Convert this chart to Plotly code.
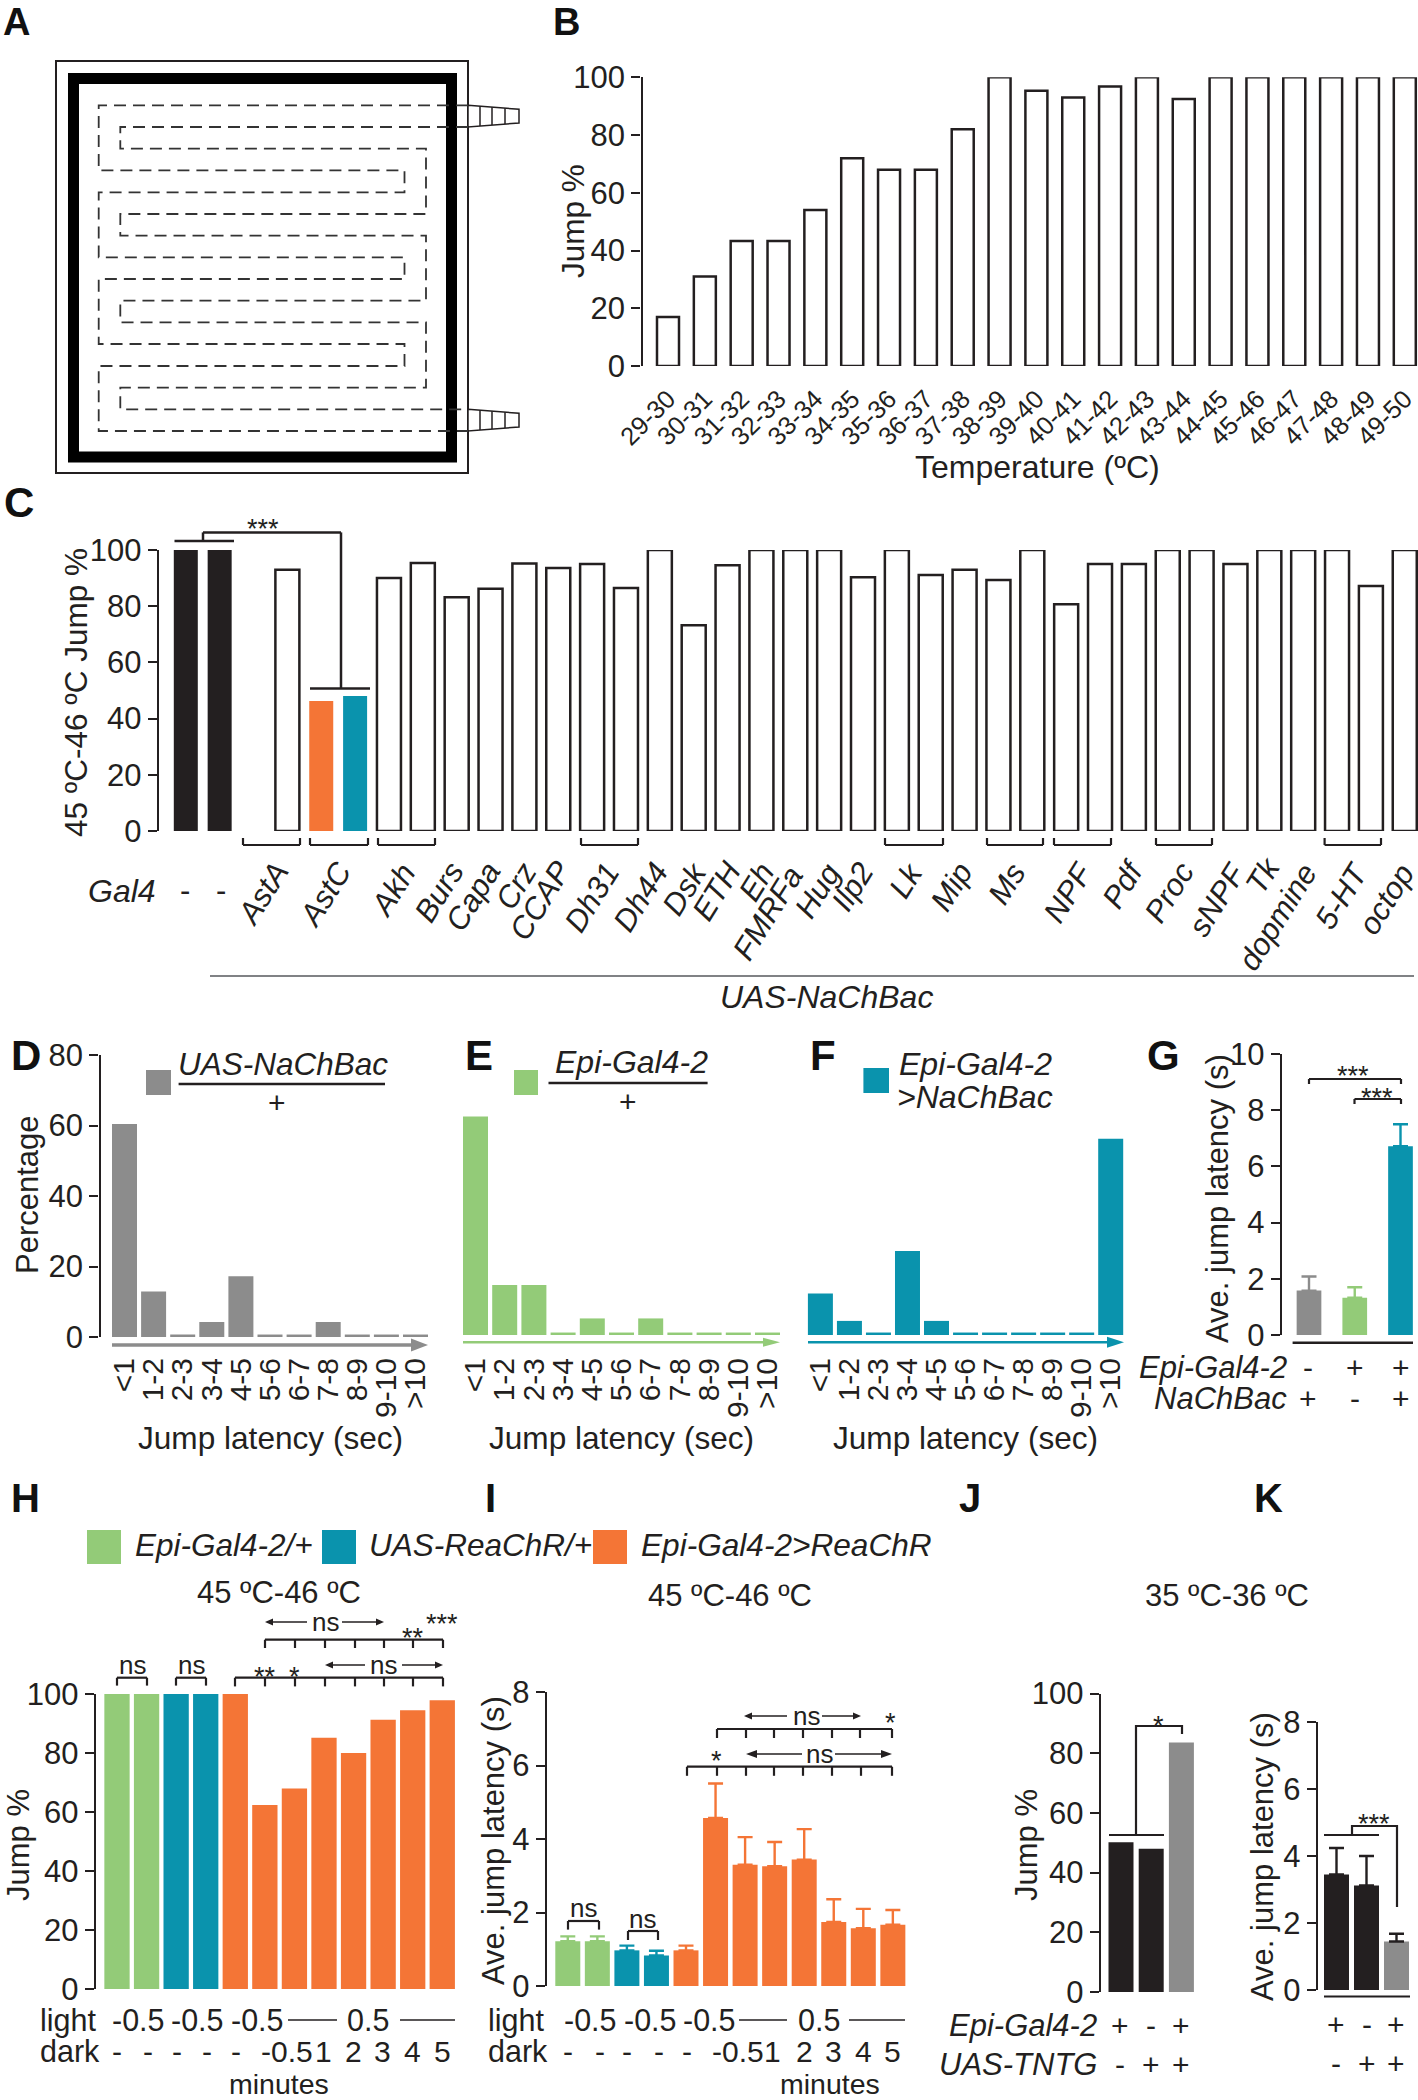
import plotly.graph_objects as go

# ---------- data ----------
temp_ranges = ["29-30","30-31","31-32","32-33","33-34","34-35","35-36","36-37","37-38","38-39","39-40",
               "40-41","41-42","42-43","43-44","44-45","45-46","46-47","47-48","48-49","49-50"]
temp_jump = [17,31,43.3,43.3,54,72,68,68,82,100,95.3,93,96.8,100,92.5,100,100,100,100,100,100]

screen_jump = [100,100,None,93,46.3,48,90,95.4,83.2,86.2,95.2,93.6,95,86.5,100,73.2,94.6,
               100,100,100,90.3,100,91.1,93,89.3,100,80.7,95,95,100,100,95,100,100,100,87.2,100]
screen_role = ["k","k","o","o","r","t"] + ["o"]*31
screen_labels = ["AstA","AstC","Akh","Burs","Capa","Crz","CCAP","Dh31","Dh44","Dsk","ETH","Eh","FMRFa","Hug","Ilp2",
                 "Lk","Mip","Ms","NPF","Pdf","Proc","sNPF","Tk","dopmine","5-HT","octop"]

latency_bins = ["<1","1-2","2-3","3-4","4-5","5-6","6-7","7-8","8-9","9-10",">10"]
hist_uas = [60.4,12.9,0.7,4.25,17.2,0.7,0.7,4.25,0.7,0.7,0.7]
hist_gal = [62,14.2,14.2,0.7,4.7,0.7,4.7,0.7,0.7,0.7,0.7]
hist_both = [11.8,4,0.7,23.8,4,0.7,0.7,0.7,0.7,0.7,55.7]

g_mean = [1.58,1.33,6.72]
g_err = [0.5,0.37,0.78]
g_rows = [("Epi-Gal4-2",["-","+","+"]),("NaChBac",["+","-","+"])]

h_jump = [100,100,100,100,100,62.4,68,85.2,80,91.3,94.5,97.9]
i_mean = [1.22,1.22,0.97,0.83,0.97,4.57,3.3,3.26,3.44,1.74,1.57,1.67]
i_err = [0.13,0.13,0.13,0.13,0.13,0.94,0.75,0.66,0.83,0.62,0.53,0.4]
light_dark_roles = ["g","g","t","t","r","r","r","r","r","r","r","r"]
dark_labels = ["-","-","-","-","-","-0.5","1","2","3","4","5"]

j_jump = [50.2,48,83.6]
k_mean = [3.45,3.12,1.45]
k_err = [0.79,0.88,0.23]
tntg_rows = [("Epi-Gal4-2",["+","-","+"]),("UAS-TNTG",["-","+","+"])]

# ---------- style ----------
W, H = 1418, 2100
FONT = "Liberation Sans"
BLACK, GRAY, GREEN, TEAL, ORANGE = "#231F20", "#8C8C8C", "#93CB78", "#0A93AD", "#F47536"
ROLE = {"k": BLACK, "o": "white", "r": ORANGE, "t": TEAL, "g": GREEN}
TICK = 31
LABEL = 31

shapes, annos = [], []
fig = go.Figure()
axis_count = 0


def X(x):
    return x / W


def Y(y):
    return 1 - y / H


def text(x, y, s, size=LABEL, anchor="center", angle=0, bold=False, color=BLACK):
    annos.append(dict(x=X(x), y=Y(y), xref="paper", yref="paper", text=s, showarrow=False,
                      xanchor=anchor, yanchor="middle", textangle=angle,
                      font=dict(family=FONT, size=size, color=color, weight=700 if bold else 400)))


def seg(x0, y0, x1, y1, color=BLACK, w=2):
    shapes.append(dict(type="line", xref="paper", yref="paper", x0=X(x0), y0=Y(y0), x1=X(x1), y1=Y(y1),
                       line=dict(color=color, width=w)))


def poly(points, fill=None, color=BLACK, w=0, dash=None, close=True):
    d = "M " + " L ".join(f"{X(a):.5f},{Y(b):.5f}" for a, b in points) + (" Z" if close else "")
    line = dict(color=color, width=w)
    if dash:
        line["dash"] = dash
    s = dict(type="path", xref="paper", yref="paper", path=d, line=line)
    if fill:
        s["fillcolor"] = fill
    shapes.append(s)


def rect(x0, y0, x1, y1, fill=None, color=BLACK, w=0):
    poly([(x0, y0), (x1, y0), (x1, y1), (x0, y1)], fill=fill, color=color, w=w)


def arrow(x0, x1, y, color=BLACK, w=1.5, hl=8, hh=3.5):
    """arrow pointing from x0 to x1"""
    sgn = 1 if x1 > x0 else -1
    seg(x0, y, x1 - sgn * hl * 0.7, y, color, w)
    poly([(x1, y), (x1 - sgn * hl, y - hh), (x1 - sgn * hl, y + hh)], fill=color, color=color, w=0)


def comb(xs, top, bottom, w=2.2):
    seg(xs[0], top, xs[-1], top, BLACK, w)
    for a in xs:
        seg(a, top, a, bottom, BLACK, w)


def stars(x, y, s, size=27):
    text(x, y + 7, s, size=size)


def panel(values, left, right, top, bottom, c0, step, bw, ymax, dtick, colors,
          err=None, line_colors=None, line_widths=None, show_y=True, ticktext=None,
          tickangle=None, standoff=0, tick_size=24, err_color=None):
    global axis_count
    axis_count += 1
    sfx = "" if axis_count == 1 else str(axis_count)
    xs = list(range(len(values)))
    marker = dict(color=colors)
    if line_colors:
        marker["line"] = dict(color=line_colors, width=line_widths)
    else:
        marker["line"] = dict(width=0)
    common = dict(width=bw / step, xaxis="x" + sfx, yaxis="y" + sfx, showlegend=False, hoverinfo="skip")
    if err is None:
        fig.add_trace(go.Bar(x=xs, y=values, marker=marker, **common))
    else:
        # one trace per colour so that every error bar can take the colour of its bar
        for col in dict.fromkeys(colors):
            idx = [i for i, c in enumerate(colors) if c == col]
            fig.add_trace(go.Bar(x=[xs[i] for i in idx], y=[values[i] for i in idx],
                                 marker=dict(color=col, line=dict(width=0)),
                                 error_y=dict(type="data", symmetric=False, array=[err[i] for i in idx],
                                              arrayminus=[0] * len(idx), color=err_color or col,
                                              thickness=2.4, width=7.5),
                                 **common))
    xa = dict(domain=[X(left), X(right)], range=[(left - c0) / step, (right - c0) / step], anchor="y" + sfx,
              showgrid=False, zeroline=False, showline=False, ticks="", fixedrange=True)
    if ticktext:
        xa.update(tickmode="array", tickvals=xs, ticktext=ticktext, tickangle=tickangle,
                  ticklabelstandoff=standoff, tickfont=dict(family=FONT, size=tick_size, color=BLACK))
    else:
        xa["showticklabels"] = False
    ya = dict(domain=[Y(bottom), Y(top)], range=[0, ymax], anchor="x" + sfx, showgrid=False, zeroline=False,
              tick0=0, dtick=dtick, fixedrange=True)
    if show_y:
        ya.update(showline=True, linewidth=2.4, linecolor=BLACK, ticks="outside", ticklen=9, tickwidth=2.2,
                  tickcolor=BLACK, tickfont=dict(family=FONT, size=TICK, color=BLACK))
    else:
        ya.update(visible=False)
    fig.update_layout({"xaxis" + sfx: xa, "yaxis" + sfx: ya})


# ---------- panel letters ----------
for s, x, y, sz in [("A", 1, 22, 38), ("B", 551, 22, 38), ("C", 2, 502, 42), ("D", 9, 1055, 42), ("E", 463, 1055, 42),
                    ("F", 808, 1055, 42), ("G", 1145, 1055, 42), ("H", 9, 1498, 40), ("I", 483, 1498, 40),
                    ("J", 957, 1498, 40), ("K", 1252, 1498, 40)]:
    text(x, y, s, size=sz, anchor="left", bold=True, color="#111111")

# ---------- A: schematic ----------
rect(56, 61, 468, 473, color=BLACK, w=2)
rect(73.5, 78.5, 451.5, 457, color="black", w=11)
for ya_, yb_ in [(105.3, 127), (409.3, 431)]:
    poly([(468, ya_), (519, ya_ + 4), (519, yb_ - 4), (468, yb_)], fill="white", color=BLACK, w=1.5)
    for xr in (480, 492, 505):
        taper = (xr - 468) / 51 * 4
        seg(xr, ya_ + taper, xr, yb_ - taper, BLACK, 1.5)
rows = [105.3, 127, 148.7, 170.3, 192.3, 214, 235.7, 257.3, 279, 300.7, 322.3, 344, 366, 387.7, 409.3, 431]
lo, li, ri, ro = 98.7, 120.3, 404.5, 426
poly([(468, rows[0]), (lo, rows[0]), (lo, rows[3]), (ri, rows[3]), (ri, rows[4]), (lo, rows[4]), (lo, rows[7]),
      (ri, rows[7]), (ri, rows[8]), (lo, rows[8]), (lo, rows[11]), (ri, rows[11]), (ri, rows[12]), (lo, rows[12]),
      (lo, rows[15]), (468, rows[15])], color="#333333", w=1.8, dash="12px,7px", close=False)
poly([(468, rows[1]), (li, rows[1]), (li, rows[2]), (ro, rows[2]), (ro, rows[5]), (li, rows[5]), (li, rows[6]),
      (ro, rows[6]), (ro, rows[9]), (li, rows[9]), (li, rows[10]), (ro, rows[10]), (ro, rows[13]), (li, rows[13]),
      (li, rows[14]), (468, rows[14])], color="#333333", w=1.8, dash="12px,7px", close=False)

# ---------- B ----------
panel(temp_jump, 642.5, 1418, 77.3, 366, 668, 36.84, 22, 100, 20, "white",
      line_colors=BLACK, line_widths=2.5, ticktext=temp_ranges, tickangle=-45, standoff=12, tick_size=25.5)
text(573, 221, "Jump %", size=31.5, angle=-90)
text(1037, 467, "Temperature (ºC)", size=32)

# ---------- C ----------
panel(screen_jump, 159, 1418, 550, 831, 185.8, 33.86, 24, 100, 20,
      [ROLE[r] for r in screen_role], line_colors=[BLACK if r == "o" else ROLE[r] for r in screen_role],
      line_widths=[2.5 if r == "o" else 0 for r in screen_role])
text(76, 693, "45 ºC-46 ºC Jump %", size=31.5, angle=-90)
label_centers = [(262, 894), (325, 894), (392.6, 890), (438.5, 892), (473, 896.5), (516.5, 885.7), (539.5, 901),
                 (592, 897.5), (640.5, 897.5), (684, 889), (716, 891), (757, 882), (768, 914), (817, 891), (853, 887),
                 (906, 880.6), (952, 887), (1006, 884), (1068, 892), (1122.6, 884), (1169, 892), (1217, 899),
                 (1263, 875.5), (1277, 917), (1341, 896), (1386, 899)]
for s, (a, b) in zip(screen_labels, label_centers):
    text(a, b, f"<i>{s}</i>", size=31, angle=-58)
for a, b in [(243, 300), (310, 368), (378, 435), (581, 638), (885, 943), (987, 1043), (1054, 1111), (1156, 1212),
             (1324.6, 1381)]:
    seg(a, 845, b, 845, BLACK, 2.2)
    seg(a, 838, a, 845, BLACK, 2.2)
    seg(b, 838, b, 845, BLACK, 2.2)
text(122, 891, "<i>Gal4</i>", size=32)
text(185, 890, "-", size=31)
text(221, 890, "-", size=31)
seg(210, 976, 1414, 976, "#808285", 2.2)
text(826, 997, "<i>UAS-NaChBac</i>", size=32)
seg(174.5, 541, 234, 541, BLACK, 2.5)
seg(203, 541, 203, 532.4, BLACK, 2.5)
seg(203, 532.4, 341, 532.4, BLACK, 2.5)
seg(341, 532.4, 341, 688.6, BLACK, 2.5)
seg(310, 688.6, 370, 688.6, BLACK, 2.5)
stars(262.6, 522, "***")

# ---------- D E F ----------
panel(hist_uas, 100.5, 445, 1055, 1337, 124.5, 29.1, 25, 80, 20, GRAY,
      ticktext=latency_bins, tickangle=-90, standoff=14, tick_size=30)
panel(hist_gal, 455, 800, 1053, 1335, 475.5, 29.2, 25, 80, 20, GREEN, show_y=False,
      ticktext=latency_bins, tickangle=-90, standoff=16, tick_size=30)
panel(hist_both, 795, 1135, 1053, 1335, 820.4, 29.03, 25, 80, 20, TEAL, show_y=False,
      ticktext=latency_bins, tickangle=-90, standoff=16, tick_size=30)
text(27, 1195, "Percentage", size=31, angle=-90)
for cx in (270, 621, 965):
    text(cx, 1438, "Jump latency (sec)", size=31.6)
arrow(112, 428, 1345, GRAY, 3.5, 17, 6.5)
arrow(463, 780, 1342.3, GREEN, 2.5, 17, 4.5)
arrow(808, 1124, 1342.3, TEAL, 2.5, 17, 5.5)
rect(146, 1070, 171, 1095, fill=GRAY)
text(283, 1064, "<i>UAS-NaChBac</i>", size=31.5)
seg(178.6, 1084, 385, 1084, BLACK, 2.5)
text(277, 1102, "+", size=30)
rect(514, 1070, 538, 1095, fill=GREEN)
text(631.6, 1062, "<i>Epi-Gal4-2</i>", size=32)
seg(548.5, 1083, 707.6, 1083, BLACK, 2.5)
text(627.5, 1101, "+", size=30)
rect(863.4, 1068, 889, 1093, fill=TEAL)
text(897, 1064, "<i>Epi-Gal4-2</i>", size=32, anchor="left")
text(895, 1097, "<i>&gt;NaChBac</i>", size=32, anchor="left")

# ---------- G ----------
panel(g_mean, 1282, 1418, 1054, 1335, 1309, 45.75, 24.7, 10, 2, [GRAY, GREEN, TEAL], err=g_err)
seg(1292.6, 1342.7, 1413, 1342.7, BLACK, 2.5)
text(1217, 1199, "Ave. jump latency (s)", size=31, angle=-90)
for (name, vals), yy in zip(g_rows, (1367, 1398)):
    text(1288.5, yy, f"<i>{name}</i>", size=31, anchor="right")
    for v, cx in zip(vals, (1308, 1355, 1401)):
        text(cx, yy, v, size=30)
comb([1309, 1401], 1079, 1084)
comb([1354.5, 1401], 1099, 1104)
stars(1353, 1069, "***")
stars(1377, 1091, "***")

# ---------- H ----------
panel(h_jump, 96, 470, 1694, 1989, 117, 29.57, 25.3, 100, 20, [ROLE[r] for r in light_dark_roles])
text(18, 1845, "Jump %", size=31, angle=-90)
rect(87, 1530, 121, 1564, fill=GREEN)
text(133, 1545, "<i>Epi-Gal4-2/+</i>", size=31.5, anchor="left")
rect(322, 1530, 356, 1564, fill=TEAL)
text(367, 1545, "<i>UAS-ReaChR/+</i>", size=31.5, anchor="left")
rect(593, 1530, 627, 1564, fill=ORANGE)
text(639, 1545, "<i>Epi-Gal4-2&gt;ReaChR</i>", size=31.6, anchor="left")
text(279, 1592, "45 ºC-46 ºC", size=31)
text(730, 1595, "45 ºC-46 ºC", size=31)
text(1227, 1595, "35 ºC-36 ºC", size=31)


def light_dark(x_label, y1, y2, minus, line1, mid, line2, dash_x, dark_x, minutes_x):
    text(x_label, y1, "light", size=30.5, anchor="left")
    text(x_label, y2, "dark", size=30.5, anchor="left")
    for cx in minus:
        text(cx, y1, "-0.5", size=30.5)
    seg(line1[0], y1, line1[1], y1, BLACK, 1.5)
    text(mid, y1, "0.5", size=30.5)
    seg(line2[0], y1, line2[1], y1, BLACK, 1.5)
    for s, cx in zip(dark_labels, list(dash_x) + list(dark_x)):
        text(cx, y2, s, size=30)
    text(minutes_x, 2084, "minutes", size=28.5)


light_dark(38, 2020, 2051, (138, 197, 257), (288, 337), 368, (400, 455),
           (117, 148, 177, 207, 236), (287, 323, 353, 382, 412, 442), 279)
comb([117, 147], 1677.7, 1685.6)
comb([176, 206], 1677.7, 1685.6)
text(132, 1665, "ns", size=26)
text(191, 1665, "ns", size=26)
comb([235, 265, 295, 325, 355, 384, 413, 443], 1677.7, 1686.4)
stars(265, 1670, "**")
stars(294, 1670, "*")
arrow(365, 325, 1665)
text(383, 1665, "ns", size=26)
arrow(402, 443, 1665)
comb([265, 295, 325, 355, 384, 413, 443], 1639.7, 1648)
arrow(307, 265, 1622)
text(325, 1622, "ns", size=26)
arrow(342, 384, 1622)
stars(413, 1631.4, "**")
stars(442, 1617, "***")

# ---------- I ----------
panel(i_mean, 547, 920, 1692, 1986, 567.8, 29.55, 25, 8, 2, [ROLE[r] for r in light_dark_roles], err=i_err)
text(493, 1841, "Ave. jump latency (s)", size=31, angle=-90)
light_dark(486, 2020, 2051, (590, 650, 709), (739, 787), 819, (849, 905),
           (568, 600, 627, 659, 687), (738, 772, 804, 833, 863, 892), 830)
comb([568, 599], 1921, 1929.6)
comb([628, 658], 1931, 1940)
text(583, 1908, "ns", size=26)
text(642, 1919, "ns", size=26)
comb([687, 717, 746, 774, 803, 832, 861, 892], 1766.7, 1775.8)
stars(716, 1754, "*")
arrow(802, 746, 1754, hl=11, hh=4)
text(819, 1754, "ns", size=26)
arrow(835, 892, 1754, hl=11, hh=4)
comb([717, 746, 774, 803, 832, 860, 892], 1729, 1738)
arrow(787, 744, 1716)
text(806, 1716, "ns", size=26)
arrow(822, 861, 1716)
stars(890, 1716, "*")

# ---------- J ----------
panel(j_jump, 1101, 1210, 1693.5, 1992, 1121, 30.2, 25, 100, 20, [BLACK, BLACK, GRAY])
text(1026, 1845, "Jump %", size=31, angle=-90)
for (name, vals), yy in zip(tntg_rows, (2025, 2064)):
    text(1099, yy, f"<i>{name}</i>", size=31, anchor="right")
    for v, cx in zip(vals, (1120, 1151, 1181)):
        text(cx, yy, v, size=30)
seg(1109, 1835, 1164, 1835, BLACK, 2)
poly([(1136, 1835), (1136, 1726), (1182, 1726), (1182, 1734)], color=BLACK, w=2.2, close=False)
stars(1158, 1719, "*")

# ---------- K ----------
panel(k_mean, 1318, 1418, 1722, 1990, 1336.5, 30, 25, 8, 2, [BLACK, BLACK, GRAY], err=k_err, err_color=BLACK)
text(1263, 1857, "Ave. jump latency (s)", size=31, angle=-90)
seg(1324, 1996.4, 1410, 1996.4, BLACK, 2)
for (name, vals), yy in zip(tntg_rows, (2024, 2063)):
    for v, cx in zip(vals, (1336, 1367, 1396)):
        text(cx, yy, v, size=30)
seg(1324, 1835, 1379, 1835, BLACK, 2)
poly([(1352, 1835), (1352, 1826), (1397, 1826), (1397, 1907)], color=BLACK, w=2.2, close=False)
stars(1374, 1817, "***")

fig.update_layout(width=W, height=H, margin=dict(l=0, r=0, t=0, b=0, autoexpand=False), autosize=False,
                  paper_bgcolor="white", plot_bgcolor="white", showlegend=False, barmode="overlay",
                  shapes=shapes, annotations=annos, font=dict(family=FONT, color=BLACK))
fig.write_html("out.html", config={"displayModeBar": False, "responsive": False},
               post_script="document.body.style.margin='0';")
